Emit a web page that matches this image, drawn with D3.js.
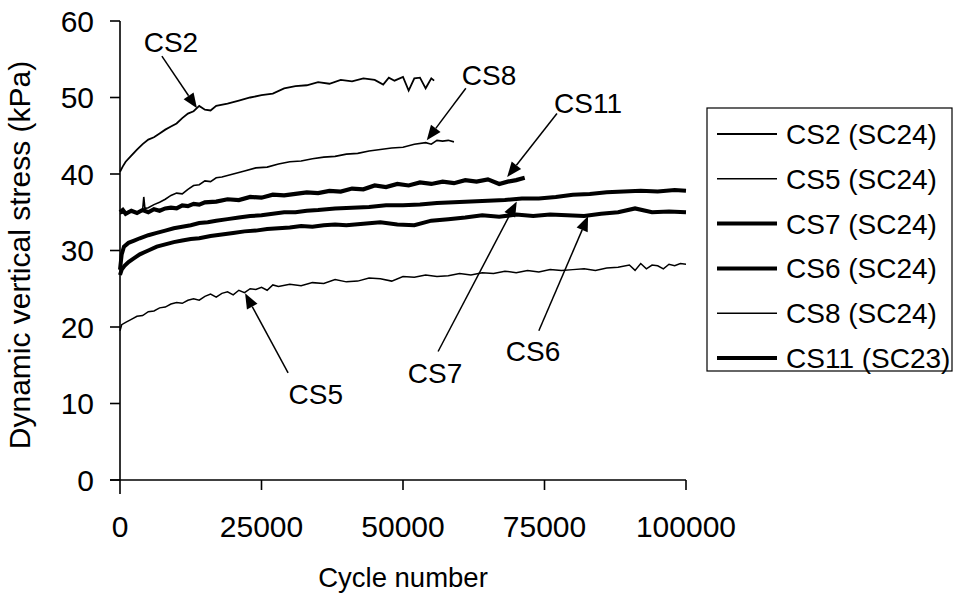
<!DOCTYPE html>
<html>
<head>
<meta charset="utf-8">
<script src="https://cdn.jsdelivr.net/npm/d3@7"></script>
<style>
  body { margin: 0; background: #fff; }
  text { font-family: "Liberation Sans", Arial, Helvetica, sans-serif; fill: #000; }
</style>
</head>
<body>
<script>
// ********************** DATA ********************************************************************
// [cycle number, dynamic vertical stress kPa]
var cs2Data = [[0,40.3],[500,41.0],[1000,41.6],[2000,42.4],[3000,43.2],[4000,43.9],[5000,44.5],[6000,44.8],
  [7000,45.3],[8000,45.8],[9000,46.2],[10000,46.6],[11000,47.3],[12000,47.9],[13000,48.2],[14000,48.9],
  [15000,48.4],[16000,48.3],[17000,48.9],[19000,49.2],[21000,49.6],[23000,50.0],[25000,50.3],[27000,50.5],
  [29000,51.2],[31000,51.5],[33000,51.6],[35000,52.0],[37000,51.8],[39000,52.3],[41000,52.1],[43000,52.5],
  [45000,52.3],[46500,51.7],[47500,52.6],[48500,52.2],[50000,52.7],[51000,50.9],[52000,52.5],[53000,52.6],
  [54000,51.2],[55000,52.5],[55500,52.2]];

var cs5Data = [[0,19.5],[300,20.3],[1000,20.6],[2000,21.0],[3000,21.4],[4000,21.5],[5000,22.0],[6000,22.1],
  [7000,22.5],[8000,22.6],[9000,23.0],[10000,23.2],[11000,23.1],[12000,23.5],[13000,23.7],[14000,23.5],
  [15000,24.0],[16000,24.3],[17000,23.9],[18000,24.4],[19000,24.6],[20000,24.2],[21000,24.8],[22000,24.5],
  [23000,25.0],[24000,24.9],[25000,25.2],[26000,24.8],[27000,25.5],[28000,25.3],[30000,25.6],[32000,25.4],
  [34000,25.8],[36000,25.7],[38000,26.2],[40000,25.9],[42000,26.0],[44000,26.4],[46000,26.3],[48000,26.0],
  [50000,26.6],[52000,26.5],[54000,26.8],[56000,26.6],[58000,26.7],[60000,27.0],[62000,26.8],[64000,27.1],
  [66000,27.0],[68000,27.3],[70000,27.1],[72000,27.4],[74000,27.2],[76000,27.5],[78000,27.4],[80000,27.5],
  [82000,27.6],[84000,27.4],[86000,27.7],[88000,27.8],[90000,28.1],[91000,27.4],[92000,28.3],[93000,27.6],
  [94000,28.1],[95000,28.0],[96000,27.6],[97000,28.2],[98000,28.0],[99000,28.3],[100000,28.2]];

var cs7Data = [[0,27.5],[300,29.5],[700,30.5],[1500,31.0],[2500,31.3],[3500,31.6],[5000,32.0],[6500,32.3],
  [8000,32.6],[9500,32.9],[11000,33.1],[12500,33.3],[14000,33.6],[15500,33.7],[17000,33.9],[19000,34.1],
  [21000,34.3],[23000,34.5],[25000,34.6],[27000,34.8],[29000,35.0],[31000,35.0],[33000,35.2],[35000,35.3],
  [38000,35.5],[41000,35.6],[44000,35.7],[47000,35.9],[50000,35.9],[53000,36.0],[56000,36.2],[59000,36.3],
  [62000,36.4],[65000,36.5],[68000,36.6],[71000,36.8],[74000,36.8],[77000,37.0],[80000,37.3],[83000,37.4],
  [86000,37.6],[89000,37.7],[92000,37.8],[95000,37.7],[98000,37.9],[100000,37.8]];

var cs6Data = [[0,26.8],[300,27.5],[800,28.0],[1500,28.5],[2500,29.0],[3500,29.5],[5000,30.0],[6500,30.5],
  [8000,30.8],[9500,31.1],[11000,31.3],[12500,31.5],[14000,31.6],[16000,31.9],[18000,32.1],[20000,32.3],
  [22000,32.5],[24000,32.6],[26000,32.8],[28000,32.9],[30000,33.0],[32000,33.2],[34000,33.1],[36000,33.3],
  [38000,33.4],[40000,33.3],[43000,33.5],[46000,33.7],[49000,33.4],[52000,33.3],[55000,33.9],[58000,34.1],
  [61000,34.3],[64000,34.6],[67000,34.4],[70000,34.7],[73000,34.5],[76000,34.7],[79000,34.6],[82000,34.5],
  [85000,34.8],[88000,35.0],[91000,35.5],[94000,35.0],[97000,35.1],[100000,35.0]];

var cs8Data = [[0,34.8],[1000,35.0],[2000,35.2],[3000,35.0],[4000,35.3],[4200,37.0],[4400,35.5],[5000,35.6],
  [6000,36.0],[7000,36.3],[8000,36.7],[9000,37.2],[10000,37.5],[11000,37.4],[12000,38.0],[13000,38.5],
  [14000,38.6],[15000,39.1],[16000,39.0],[17000,39.5],[18000,39.6],[20000,40.0],[22000,40.4],[24000,40.8],
  [26000,40.9],[28000,41.3],[30000,41.6],[32000,41.7],[34000,42.0],[36000,42.2],[38000,42.3],[40000,42.6],
  [42000,42.7],[44000,43.0],[46000,43.2],[48000,43.4],[50000,43.5],[52000,43.9],[54000,44.1],[55000,43.9],
  [56000,44.4],[57000,44.3],[58000,44.4],[59000,44.2]];

var cs11Data = [[0,35.0],[500,35.3],[1000,34.8],[2000,35.2],[3000,34.9],[4000,35.3],[5000,35.0],[6000,35.4],
  [7000,35.2],[8000,35.5],[9000,35.6],[10000,35.5],[11000,35.9],[12000,35.8],[13000,36.1],[14000,36.0],
  [15000,36.3],[17000,36.4],[19000,36.7],[21000,36.6],[23000,37.0],[25000,36.9],[27000,37.3],[29000,37.2],
  [31000,37.4],[33000,37.6],[35000,37.5],[37000,37.8],[39000,37.7],[41000,38.1],[43000,38.0],[45000,38.5],
  [47000,38.3],[49000,38.7],[51000,38.5],[53000,38.9],[55000,38.7],[57000,39.0],[59000,38.8],[61000,39.2],
  [63000,39.0],[65000,39.3],[67000,38.7],[68500,39.0],[70000,39.2],[71500,39.5]];

// legend order and line weights
var seriesNames = ["CS2 (SC24)", "CS5 (SC24)", "CS7 (SC24)", "CS6 (SC24)", "CS8 (SC24)", "CS11 (SC23)"];
var seriesData = [cs2Data, cs5Data, cs7Data, cs6Data, cs8Data, cs11Data];
var seriesWidths = [1.8, 1.5, 4, 4, 1.6, 4.2];

var xTicks = [0, 25000, 50000, 75000, 100000];
var yTicks = [0, 10, 20, 30, 40, 50, 60];

// callouts: label, text anchor point, arrow start, arrow tip (cycle, kPa)
var callouts = [
  { label: "CS2",  text: [9000, 55.9],  from: [7400, 55.4],  to: [13600, 48.6] },
  { label: "CS8",  text: [65200, 51.6], from: [61100, 51.2], to: [54200, 44.4] },
  { label: "CS11", text: [82700, 48.0], from: [77200, 47.9], to: [68400, 39.6] },
  { label: "CS7",  text: [55650, 12.7], from: [56200, 16.8], to: [70100, 36.4] },
  { label: "CS6",  text: [72970, 15.6], from: [74000, 19.5], to: [82700, 34.5] },
  { label: "CS5",  text: [34600, 10.0], from: [29700, 14.0], to: [22100, 24.4] }
];

// ********************** SVG + SCALES ************************************************************
var width = 957, height = 598;
var tickFont = 30, labelFont = 28;

var svg = d3.select("body").append("svg")
  .attr("width", width)
  .attr("height", height);

var x = d3.scaleLinear().domain([0, 100000]).range([120, 686]);
var y = d3.scaleLinear().domain([0, 60]).range([480, 21]);

// ********************** AXES ********************************************************************
// y axis line (runs a little below the x axis, like the original)
svg.append("line")
  .attr("x1", x(0)).attr("x2", x(0))
  .attr("y1", y(60)).attr("y2", y(0) + 14)
  .attr("stroke", "black").attr("stroke-width", 1.6);

// x axis line
svg.append("line")
  .attr("x1", x(0) - 10).attr("x2", x(100000))
  .attr("y1", y(0)).attr("y2", y(0))
  .attr("stroke", "black").attr("stroke-width", 1.6);

// y ticks + labels
yTicks.forEach(function(t) {
  svg.append("line")
    .attr("x1", x(0) - 10).attr("x2", x(0))
    .attr("y1", y(t)).attr("y2", y(t))
    .attr("stroke", "black").attr("stroke-width", 1.6);
  svg.append("text")
    .attr("x", x(0) - 26)
    .attr("y", y(t))
    .attr("dy", "0.36em")
    .attr("text-anchor", "end")
    .style("font-size", tickFont + "px")
    .text(t);
});

// x ticks + labels
xTicks.forEach(function(t) {
  if (t > 0) {
    svg.append("line")
      .attr("x1", x(t)).attr("x2", x(t))
      .attr("y1", y(0)).attr("y2", y(0) + 10)
      .attr("stroke", "black").attr("stroke-width", 1.6);
  }
  svg.append("text")
    .attr("x", x(t))
    .attr("y", 537)
    .attr("text-anchor", "middle")
    .style("font-size", tickFont + "px")
    .text(t);
});

// axis titles
svg.append("text")
  .attr("x", 403)
  .attr("y", 587)
  .attr("text-anchor", "middle")
  .style("font-size", "27.5px")
  .text("Cycle number");

svg.append("text")
  .attr("transform", "translate(30,255) rotate(-90)")
  .attr("text-anchor", "middle")
  .style("font-size", "30px")
  .text("Dynamic vertical stress (kPa)");

// ********************** LINES *******************************************************************
var line = d3.line()
  .x(function(d) { return x(d[0]); })
  .y(function(d) { return y(d[1]); });

seriesData.forEach(function(data, i) {
  svg.append("path")
    .datum(data)
    .attr("d", line)
    .attr("fill", "none")
    .attr("stroke", "black")
    .attr("stroke-width", seriesWidths[i])
    .attr("stroke-linejoin", "miter");
});

// ********************** CALLOUTS ****************************************************************
callouts.forEach(function(c) {
  var x1 = x(c.from[0]), y1 = y(c.from[1]);
  var x2 = x(c.to[0]), y2 = y(c.to[1]);
  var ang = Math.atan2(y2 - y1, x2 - x1);
  var headLen = 15, headW = 6;
  var bx = x2 - headLen * Math.cos(ang), by = y2 - headLen * Math.sin(ang);

  svg.append("line")
    .attr("x1", x1).attr("y1", y1)
    .attr("x2", bx).attr("y2", by)
    .attr("stroke", "black").attr("stroke-width", 1.5);

  svg.append("polygon")
    .attr("points", [
      [x2, y2],
      [bx + headW * Math.sin(ang), by - headW * Math.cos(ang)],
      [bx - headW * Math.sin(ang), by + headW * Math.cos(ang)]
    ].map(function(p) { return p.join(","); }).join(" "))
    .attr("fill", "black");

  svg.append("text")
    .attr("x", x(c.text[0]))
    .attr("y", y(c.text[1]))
    .attr("text-anchor", "middle")
    .style("font-size", labelFont + "px")
    .text(c.label);
});

// ********************** LEGEND ******************************************************************
var legendX = 707, legendY = 108, legendW = 245, legendH = 263;
var rowStart = 134, rowStep = 44.8;

svg.append("rect")
  .attr("x", legendX).attr("y", legendY)
  .attr("width", legendW).attr("height", legendH)
  .attr("fill", "white")
  .attr("stroke", "black")
  .attr("stroke-width", 1.2);

seriesNames.forEach(function(name, i) {
  var ly = rowStart + i * rowStep;
  svg.append("line")
    .attr("x1", 717).attr("x2", 777)
    .attr("y1", ly).attr("y2", ly)
    .attr("stroke", "black")
    .attr("stroke-width", seriesWidths[i]);
  svg.append("text")
    .attr("x", 786)
    .attr("y", ly)
    .attr("dy", "0.36em")
    .style("font-size", labelFont + "px")
    .text(name);
});
</script>
</body>
</html>
